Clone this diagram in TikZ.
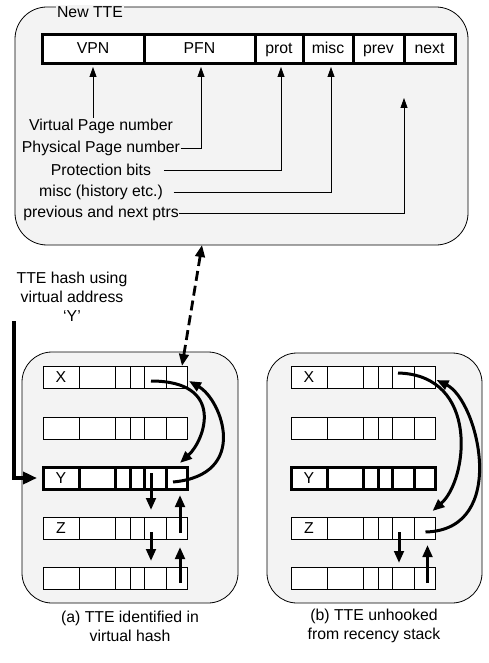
\documentclass[tikz,border=0pt]{standalone}
\usepackage{fontspec}
\setmainfont{Liberation Sans}
\usetikzlibrary{arrows.meta}
\definecolor{panelbg}{RGB}{243,243,243}
\newcommand\tterow[5]{%
 \node[cell,#4,minimum width=36pt] (#1-1) at (#2,#3) {#5};
 \node[cell,#4,minimum width=36pt] (#1-2) at (#1-1.east) {};
 \node[cell,#4,minimum width=15pt] (#1-3) at (#1-2.east) {};
 \node[cell,#4,minimum width=14pt] (#1-4) at (#1-3.east) {};
 \node[cell,#4,minimum width=22pt] (#1-5) at (#1-4.east) {};
 \node[cell,#4,minimum width=21pt] (#1-6) at (#1-5.east) {};
}
\begin{document}
\begin{tikzpicture}[x=1pt,y=-1pt,
 font=\fontsize{15.8}{19}\selectfont,
 panel/.style={draw=black, line width=0.8pt, fill=panelbg, rounded corners=32pt, inner sep=0pt, outer sep=0pt, anchor=north west},
 cell/.style={draw, fill=white, line width=0.9pt, minimum height=22pt, inner sep=0pt, outer sep=0pt, anchor=west},
 boldrow/.style={line width=3pt},
 fcell/.style={draw, fill=white, line width=3pt, minimum height=29pt, inner sep=0pt, outer sep=0pt, anchor=west, text height=11.5pt, text depth=3pt},
 lbl/.style={inner sep=0.5pt},
 thinarrow/.style={line width=0.8pt, -{Triangle[length=10pt,width=7pt]}},
 thickarrow/.style={line width=3pt, -{Triangle[length=12pt,width=9.5pt]}},
 dasharrow/.style={line width=2.8pt, dash pattern=on 10pt off 5pt, {Triangle[length=12pt,width=9.5pt]}-{Triangle[length=12pt,width=9.5pt]}},
 hasharrow/.style={line width=4.5pt, -{Triangle[length=14pt,width=12pt]}},
]
\useasboundingbox (0,0) rectangle (488,663);

% ---- top panel ----
\node[panel, minimum width=453pt, minimum height=238pt] (top) at (15,7) {};
\node[fill=panelbg, inner sep=1pt] (newtte) at (90,12) {New TTE};

\node[fcell, minimum width=102pt] (vpn) at (42,49.5) {VPN};
\node[fcell, minimum width=111pt] (pfn) at (vpn.east) {PFN};
\node[fcell, minimum width=48pt] (prot) at (pfn.east) {prot};
\node[fcell, minimum width=50pt] (misc) at (prot.east) {misc};
\node[fcell, minimum width=51pt] (prev) at (misc.east) {prev};
\node[fcell, minimum width=51pt] (nxt) at (prev.east) {next};

\node[lbl] (vl) at (101,126) {Virtual Page number};
\node[lbl] (pl) at (101,148) {Physical Page number};
\node[lbl] (prl) at (101,170) {Protection bits};
\node[lbl] (ml) at (101,192) {misc (history etc.)};
\node[lbl] (pn) at (101,213) {previous and next ptrs};

\coordinate (nt) at ([yshift=-34pt]nxt.south west);
\draw[thinarrow] (vpn.south |- vl.north) -- ([yshift=-3pt]vpn.south);
\draw[thinarrow] (pl.east) -| ([xshift=1.5pt,yshift=-3pt]pfn.south);
\draw[thinarrow] ([xshift=12pt]prl.east) -| ([xshift=2pt,yshift=-3pt]prot.south);
\draw[thinarrow] ([xshift=10pt]ml.east) -| ([xshift=3pt,yshift=-3pt]misc.south);
\draw[thinarrow] (pn.east) -| (nt);

% ---- hash label ----
\node[align=center, inner sep=0pt] (hash) at (72,297) {TTE hash using\\virtual address\\‘Y’};

% ---- panel (a) ----
\node[panel, rounded corners=30pt, minimum width=216pt, minimum height=251pt] (pa) at (22,352) {};
\tterow{xa}{43}{377}{}{X}
\tterow{sa}{43}{428}{}{}
\tterow{ya}{43}{478}{boldrow}{Y}
\tterow{za}{43}{528}{}{Z}
\tterow{ra}{43}{578}{}{}

\draw[thickarrow] ([xshift=-4pt,yshift=-4pt]xa-5.center) .. controls (226,381) and (205,440) .. ([xshift=3.5pt,yshift=4pt]ya-6.north);
\draw[thickarrow] ([xshift=-3.5pt,yshift=-4pt]ya-6.center) .. controls (250,475) and (222,400) .. ([xshift=2pt,yshift=-4pt]xa-6.east);
\draw[thickarrow] ([xshift=-4pt,yshift=5pt]ya-5.center) -- ([xshift=-4pt,yshift=7pt]za-5.north);
\draw[thickarrow] ([xshift=3.5pt,yshift=-5pt]za-6.center) -- ([xshift=3.5pt,yshift=-6pt]ya-6.south);
\draw[thickarrow] ([xshift=-4pt,yshift=-4pt]za-5.center) -- ([xshift=-4pt,yshift=6pt]ra-5.north);
\draw[thickarrow] ([xshift=3.5pt,yshift=-5pt]ra-6.center) -- ([xshift=3.5pt,yshift=-8pt]za-6.south);

\node[align=center, inner sep=0pt] (capa) at (130,626.5) {(a) TTE identified in\\virtual hash};

% ---- panel (b) ----
\node[panel, rounded corners=30pt, minimum width=215pt, minimum height=250pt] (pb) at (267,353) {};
\tterow{xb}{291}{377}{}{X}
\tterow{sb}{291}{428}{}{}
\tterow{yb}{291}{478}{boldrow}{Y}
\tterow{zb}{291}{528}{}{Z}
\tterow{rb}{291}{578}{}{}

\draw[thickarrow] ([xshift=-5pt,yshift=4pt]xb-5.center) .. controls (480,375) and (468,480) .. ([xshift=8pt,yshift=6pt]zb-6.north);
\draw[thickarrow] ([xshift=1pt,yshift=-4pt]zb-6.center) .. controls (510,530) and (478,400) .. ([xshift=1.5pt,yshift=-3pt]xb-6.east);
\draw[thickarrow] ([xshift=-4pt,yshift=-4pt]zb-5.center) -- ([xshift=-4pt,yshift=4pt]rb-5.north);
\draw[thickarrow] ([xshift=3pt,yshift=-5pt]rb-6.center) -- ([xshift=3pt,yshift=-6pt]zb-6.south);

\node[align=center, inner sep=0pt] (capb) at (374,625.5) {(b) TTE unhooked\\from recency stack};

% ---- connectors between parts ----
\draw[dasharrow] ([xshift=-39.5pt]top.south) -- ([xshift=5.5pt]xa-6.north);
\coordinate (hstart) at (14,321);
\draw[hasharrow] (hstart) |- ([xshift=-6pt]ya-1.west);
\end{tikzpicture}
\end{document}
